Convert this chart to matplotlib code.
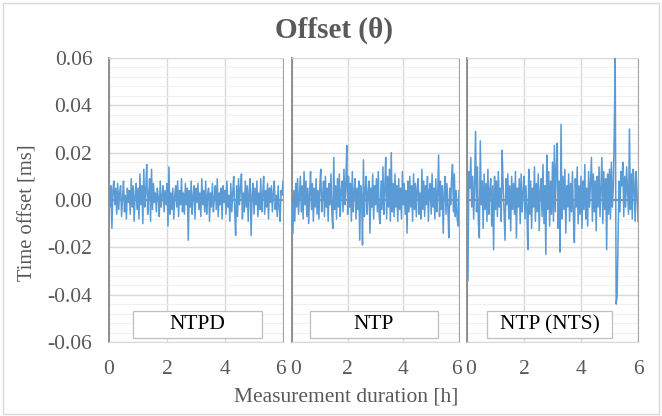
import numpy as np
import matplotlib
matplotlib.use("Agg")
from matplotlib import pyplot as plt
from matplotlib import transforms
from matplotlib.patches import Rectangle
from matplotlib.ticker import MultipleLocator, FuncFormatter

# offsets, in microseconds (1 sample every 2 min, 0..6 h)
ntpd_us = [
    2, -3, 6, -12, 4, 8, -2, 5, -6, 7,
    -4, 3, 6, -7, 1, 8, -5, 2, -8, 5,
    -1, 4, -6, 9, -3, 6, -9, 2, 7, -4,
    5, -8, 11, -2, 6, -10, 13, -3, 4, 15,
    -6, 2, 9, -9, 13, -4, 7, -1, 3, -5,
    5, 1, -7, 8, -3, 2, 6, -5, 4, -2,
    7, -11, 14, -6, 3, -4, 5, -8, 2, 6,
    -3, 8, -7, 4, -2, 9, -5, 3, -6, 7,
    -2, 5, -17, 4, -3, 8, -6, 2, 6, -8,
    5, -1, 7, -4, 3, -7, 9, -2, 4, -5,
    8, -6, 2, 5, -9, 3, -3, 7, -5, 1,
    6, -4, 9, -7, 3, -2, 5, -8, 6, -1,
    4, -6, 8, -3, 2, -9, 7, -5, 3, 10,
    -4, -15, 6, -7, 9, -2, 5, 11, -8, 3,
    -5, 8, -3, 6, -9, 4, 9, -15, 2, 7,
    -6, 5, -2, 8, -7, 3, -4, 9, -5, 2,
    10, -6, 4, -3, 7, -8, 5, -1, 6, -5,
    3, 8, -4, 2, -7, 6, -3, -9, 4, 2,
    8,
]

ntp_us = [
    -1, -14, 4, -9, 7, -3, 9, -6, 2, 10,
    -5, 6, -8, 12, -2, 8, -7, 5, -10, 3,
    12, -4, 7, -9, 5, -3, 9, -6, 4, -8,
    6, 13, -5, 2, 8, -7, 10, -3, 5, -9,
    7, -2, 11, -6, -12, 18, -4, 6, -8, 9,
    -3, 11, -7, 4, 8, -5, 13, -2, 6, 23,
    -6, 10, -3, 7, -9, 12, -5, 3, 9, -8,
    5, -4, 8, -17, 6, 2, -19, 17, -7, 4,
    10, -6, 3, 8, -14, 5, -3, 11, -8, 6,
    -2, 9, -5, 12, -7, -10, 8, -4, 14, -6,
    5, 18, -8, 10, -3, 13, -9, 20, -5, 7,
    -7, 11, -3, 6, -9, 9, -4, 5, -8, 12,
    -2, 7, -6, 4, -14, 8, -5, 10, -3, 6,
    -9, 11, -4, 7, -7, 5, 9, -6, 3, -8,
    13, -4, 8, -7, 6, -2, 10, -9, 4, 7,
    -6, 11, -3, 5, -8, 9, -5, 2, 19, -7,
    8, -4, 6, -14, 3, 10, -6, 7, -3, -16,
    5, -2, 9, 15, -5, 11, -7, 4, -8, -11,
    4,
]

nts_us = [
    35, -34, 12, 5, 18, -3, 10, -8, 6, 29,
    -5, 14, -10, -16, 25, -2, 8, -12, 11, -4,
    7, -9, 13, -6, 4, 9, -11, 6, -21, 10,
    -4, 8, -7, 12, -3, 5, -9, 21, 7, -5,
    -17, 9, -2, 11, -8, 6, -13, 10, -4, 7,
    -6, 12, -16, 5, -3, 9, -10, 11, -5, 3,
    10, -8, 6, -4, -21, 13, -6, 8, -12, 5,
    -3, 14, -9, 7, -5, 11, -13, 4, 9, -7,
    15, -10, 6, -23, 19, -4, 12, -11, 8, -6,
    16, -9, 23, -5, 14, 24, -12, 8, -22, 32,
    -8, 10, -4, 13, -14, 6, -3, 11, -9, 7,
    -5, 12, -7, -18, 9, -3, 14, -10, 6, -6,
    10, -12, 8, -4, 15, -8, 5, -11, 12, -3,
    7, 18, -9, 11, -5, 8, -13, 10, -3, 14,
    -7, 6, 18, -10, 12, -4, 9, -21, 11, -6,
    13, -8, 16, -3, 5, 29, 60, -44, -41, -17,
    8, -5, 12, 6, 16, -7, 10, -3, 14, 4,
    -6, 30, -4, 11, -8, 13, 6, -9, 12, 3,
    -9,
]

labels = ["NTPD", "NTP", "NTP (NTS)"]
series = [ntpd_us, ntp_us, nts_us]
x_ticks = [0, 2, 4, 6]
y_ticks = [-0.06, -0.04, -0.02, 0.0, 0.02, 0.04, 0.06]

SERIF = ["Liberation Serif", "DejaVu Serif"]
TXT = "#595959"

W, H = 662, 416
fig = plt.figure(figsize=(W / 100, H / 100), dpi=100)
fig.patches.append(Rectangle((3 / W, 2 / H), 656 / W, 411 / H, transform=fig.transFigure,
                             fill=False, edgecolor="#d9d9d9", linewidth=1.0))

# panel boxes in pixels (left, right), and label boxes in axes fraction
px_left = [109, 292, 467]
px_right = [283, 459, 638]
box_x = [(0.138, 0.879), (0.108, 0.874), (0.117, 0.848)]
top_px, bot_px = 58, 342

for k in range(3):
    ax = fig.add_axes([px_left[k] / W, (H - bot_px) / H,
                       (px_right[k] - px_left[k]) / W, (bot_px - top_px) / H])
    y = np.array(series[k]) / 1000.0
    t = np.linspace(0, 6, len(y))
    ax.axhline(0, color="#8c8c8c", linewidth=1.4, zorder=2)
    ax.plot(t, y, color="#5b9bd5", linewidth=1.1, zorder=3)

    ax.set_xlim(0, 6)
    ax.set_ylim(-0.06, 0.06)
    ax.set_xticks(x_ticks)
    ax.set_yticks(y_ticks)
    ax.yaxis.set_minor_locator(MultipleLocator(0.004))
    ax.grid(True, which="major", color="#d9d9d9", linewidth=1.0, zorder=0)
    ax.grid(True, which="minor", axis="y", color="#f0f0f0", linewidth=0.8, zorder=0)
    ax.set_axisbelow(True)
    ax.tick_params(which="both", length=0)
    ax.tick_params(axis="x", labelbottom=False)
    ax.tick_params(axis="y", pad=12, labelsize=15.5, labelcolor=TXT)
    for lab in ax.get_yticklabels():
        lab.set_family(SERIF)
    ax.yaxis.set_major_formatter(FuncFormatter(lambda v, p: f"{round(v, 2):.2f}" if abs(v) > 1e-9 else "0.00"))
    if k > 0:
        ax.tick_params(axis="y", labelleft=False)

    # x tick labels placed by hand so the "6" and "0" at panel joins do not collide
    base = transforms.blended_transform_factory(ax.transData, ax.transAxes)
    for j, tv in enumerate(x_ticks):
        dx = 0
        if j == 0 and k > 0:
            dx = 4
        if j == len(x_ticks) - 1 and k < 2:
            dx = -3
        off = transforms.ScaledTranslation(dx / 100, -28 / 100, fig.dpi_scale_trans)
        ax.text(tv, 0, str(tv), transform=base + off, ha="center", va="center",
                fontsize=15.5, family=SERIF, color=TXT, clip_on=False)

    ax.spines["left"].set_color("#7f7f7f")
    ax.spines["left"].set_linewidth(1.2)
    ax.spines["right"].set_color("#a6a6a6")
    for s in ("top", "bottom"):
        ax.spines[s].set_color("#d9d9d9")

    x0, x1 = box_x[k]
    ax.add_patch(Rectangle((x0, 0.014), x1 - x0, 0.095, transform=ax.transAxes,
                           facecolor="white", edgecolor="#bfbfbf", linewidth=0.9, zorder=4))
    ax.text((x0 + x1) / 2, 0.061, labels[k], transform=ax.transAxes, ha="center", va="center",
            fontsize=15.5, family=SERIF, color="black", zorder=5)

fig.text(334 / W, 1 - 30 / H, "Offset (\u03b8)", ha="center", va="center",
         fontsize=21, fontweight="bold", family=SERIF, color=TXT)
fig.text(346 / W, 1 - 397 / H, "Measurement duration [h]", ha="center", va="center",
         fontsize=15.5, family=SERIF, color=TXT)
fig.text(28 / W, 1 - 213 / H, "Time offset [ms]", ha="center", va="center", rotation=90,
         fontsize=14.8, family=SERIF, color=TXT)

fig.savefig("out.png", dpi=100)
